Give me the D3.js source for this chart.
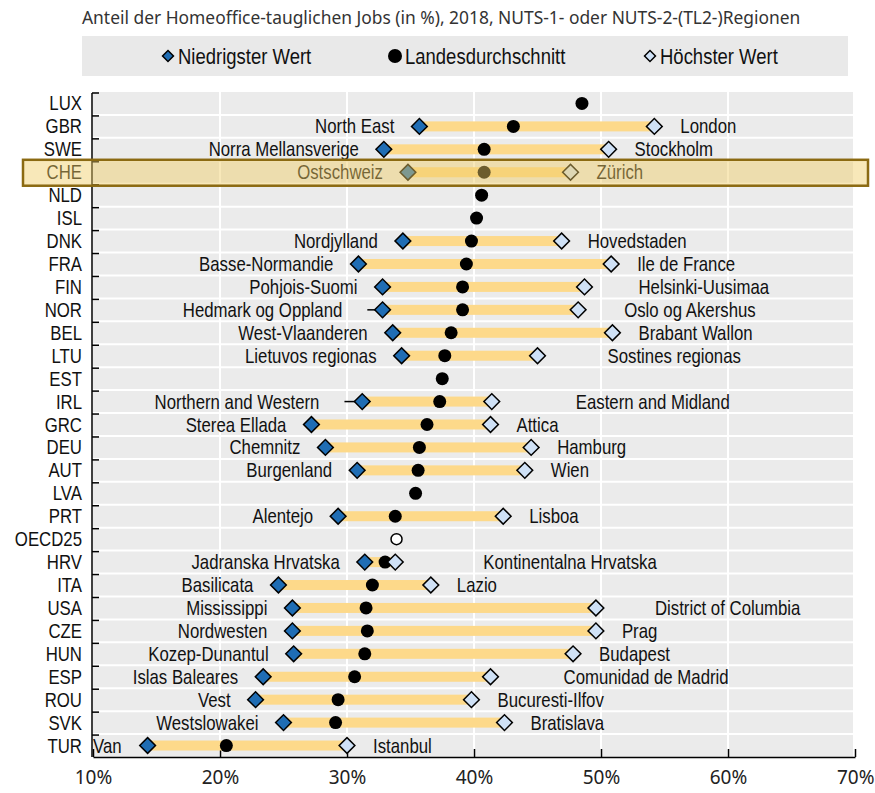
<!DOCTYPE html>
<html>
<head>
<meta charset="utf-8">
<script src="https://cdn.jsdelivr.net/npm/d3@7"></script>
<style>
  body { margin: 0; background: #fff; }
  .narrow { font-family: "Liberation Sans", Arial, sans-serif; }
  .noto { font-family: "Noto Sans", "Open Sans", sans-serif; }
</style>
</head>
<body>
<svg id="chart" width="875" height="793"></svg>
<script>
// Data
const countries = ["LUX","GBR","SWE","CHE","NLD","ISL","DNK","FRA","FIN","NOR","BEL","LTU","EST","IRL","GRC","DEU","AUT","LVA","PRT","OECD25","HRV","ITA","USA","CZE","HUN","ESP","ROU","SVK","TUR"];
const avgValues = [48.5,43.1,40.8,40.8,40.6,40.2,39.8,39.4,39.1,39.1,38.2,37.7,37.5,37.3,36.3,35.7,35.6,35.4,33.8,33.9,33.0,32.0,31.5,31.6,31.4,30.6,29.3,29.1,20.5];
const minValues = [null,35.7,32.9,34.8,null,null,34.4,30.9,32.8,32.8,33.6,34.3,null,31.2,27.2,28.3,30.8,null,29.3,null,31.4,24.6,25.7,25.7,25.8,23.4,22.8,25.0,14.3];
const maxValues = [null,54.2,50.6,47.6,null,null,46.9,50.8,48.7,48.2,50.9,45.0,null,41.4,41.3,44.5,44.0,null,42.3,null,33.8,36.6,49.6,49.6,47.8,41.3,39.8,42.4,30.0];
const minRegions = ["","North East","Norra Mellansverige","Ostschweiz","","","Nordjylland","Basse-Normandie","Pohjois-Suomi","Hedmark og Oppland","West-Vlaanderen","Lietuvos regionas","","Northern and Western","Sterea Ellada","Chemnitz","Burgenland","","Alentejo","","Jadranska Hrvatska","Basilicata","Mississippi","Nordwesten","Kozep-Dunantul","Islas Baleares","Vest","Westslowakei","Van"];
const maxRegions = ["","London","Stockholm","Zürich","","","Hovedstaden","Ile de France","Helsinki-Uusimaa","Oslo og Akershus","Brabant Wallon","Sostines regionas","","Eastern and Midland","Attica","Hamburg","Wien","","Lisboa","","Kontinentalna Hrvatska","Lazio","District of Columbia","Prag","Budapest","Comunidad de Madrid","Bucuresti-Ilfov","Bratislava","Istanbul"];
const leaderFrom = {NOR: 31.6, IRL: 29.8};
const xTicks = [10,20,30,40,50,60,70];
const highlight = "CHE";
const title = "Anteil der Homeoffice-tauglichen Jobs (in %), 2018, NUTS-1- oder NUTS-2-(TL2-)Regionen";
const legendItems = ["Niedrigster Wert","Landesdurchschnitt","Höchster Wert"];

// extra spacing for some right-hand labels, as in the original
const maxLabelShift = {"Helsinki-Uusimaa":28,"Oslo og Akershus":20,"Sostines regionas":44,"Eastern and Midland":58,"Kontinentalna Hrvatska":62,"District of Columbia":33,"Comunidad de Madrid":47};

const rows = countries.map((c, i) => ({
  country: c, avg: avgValues[i], min: minValues[i], max: maxValues[i],
  minName: minRegions[i], maxName: maxRegions[i]
}));

const svg = d3.select("#chart");
const x = d3.scaleLinear().domain([10, 70]).range([93, 855]);
const y = d3.scaleBand().domain(countries).range([92, 757]);
const cy = c => y(c) + y.bandwidth() / 2;

const minColor = "#1f6db4", maxColor = "#cfe1f6", barColor = "#fdd98a";
const diamond = d3.symbol().type(d3.symbolSquare).size(124);

// condensed look: squeeze the text horizontally around its anchor
function narrow(sel, fx, fy, size = 20, sx = 0.84) {
  sel.attr("class", "narrow").attr("font-size", size).attr("fill", "#111")
    .attr("transform", (d, i) => `translate(${fx(d, i)},${fy(d, i)}) scale(${sx},1)`);
}

// title
svg.append("text").attr("class", "noto").attr("x", 82).attr("y", 24)
  .attr("font-size", 17.4).attr("fill", "#333").text(title);

// legend
svg.append("rect").attr("x", 82).attr("y", 36).attr("width", 766).attr("height", 40).attr("fill", "#e9e9e9");
const legendX = [168, 395, 650];
legendItems.forEach((t, i) => {
  const g = svg.append("g").attr("transform", `translate(${legendX[i]},56)`);
  if (i === 1) {
    g.append("circle").attr("r", 7).attr("fill", "#000");
  } else {
    g.append("path").attr("d", d3.symbol().type(d3.symbolSquare).size(60)())
      .attr("transform", "rotate(45)")
      .attr("fill", i === 0 ? minColor : maxColor).attr("stroke", "#000").attr("stroke-width", 1.5);
  }
  g.append("text").call(narrow, () => 10, () => 7.5, 21.5, 0.86).text(t);
});

// plot background and grid
svg.append("rect").attr("x", 93).attr("y", 92).attr("width", 760).attr("height", 665).attr("fill", "#ebebeb");
svg.append("g").selectAll("line").data(countries.slice(1)).join("line")
  .attr("x1", 93).attr("x2", 853).attr("y1", d => y(d)).attr("y2", d => y(d))
  .attr("stroke", "#fff").attr("stroke-width", 2);
svg.append("g").selectAll("line").data(xTicks.slice(1, -1)).join("line")
  .attr("x1", d => x(d)).attr("x2", d => x(d)).attr("y1", 92).attr("y2", 757)
  .attr("stroke", "#fff").attr("stroke-width", 2);

// left axis with ticks at row boundaries
svg.append("line").attr("x1", 92).attr("x2", 92).attr("y1", 93).attr("y2", 757).attr("stroke", "#000").attr("stroke-width", 1.5);
svg.append("g").selectAll("line").data(countries).join("line")
  .attr("x1", 92).attr("x2", 99).attr("y1", d => y(d) + 1).attr("y2", d => y(d) + 1)
  .attr("stroke", "#000").attr("stroke-width", 1.5);
svg.append("g").selectAll("text").data(countries).join("text")
  .call(narrow, () => 82, d => cy(d) + 7)
  .attr("text-anchor", "end").text(d => d);

// bottom axis
const xAxis = svg.append("g").attr("transform", "translate(0,757)")
  .call(d3.axisBottom(x).tickValues(xTicks).tickFormat(d => d + "%").tickSizeInner(-8).tickSizeOuter(0).tickPadding(14));
xAxis.select(".domain").attr("stroke", "#000").attr("stroke-width", 1.5);
xAxis.selectAll(".tick line").attr("stroke", "#000").attr("stroke-width", 1.5);
xAxis.selectAll(".tick text").attr("class", "noto").attr("font-size", 19).attr("fill", "#222")
  .attr("text-anchor", (d, i) => i === xTicks.length - 1 ? "end" : "middle")
  .attr("dx", (d, i) => i === xTicks.length - 1 ? 19 : 0);

// range bars
const ranged = rows.filter(d => d.min != null);
svg.append("g").selectAll("rect").data(ranged).join("rect")
  .attr("x", d => x(d.min)).attr("width", d => x(d.max) - x(d.min))
  .attr("y", d => cy(d.country) - 5).attr("height", 10).attr("fill", barColor);

// leader lines
svg.append("g").selectAll("line").data(Object.entries(leaderFrom)).join("line")
  .attr("x1", d => x(d[1])).attr("x2", d => x(minValues[countries.indexOf(d[0])]))
  .attr("y1", d => cy(d[0])).attr("y2", d => cy(d[0]))
  .attr("stroke", "#000").attr("stroke-width", 1.5);

// averages
svg.append("g").selectAll("circle").data(rows).join("circle")
  .attr("cx", d => x(d.avg)).attr("cy", d => cy(d.country))
  .attr("r", d => d.country === "OECD25" ? 5.5 : 6.5)
  .attr("fill", d => d.country === "OECD25" ? "#fff" : "#000")
  .attr("stroke", "#000").attr("stroke-width", d => d.country === "OECD25" ? 1.5 : 0);

// min / max diamonds
svg.append("g").selectAll("path").data(ranged).join("path")
  .attr("d", diamond()).attr("transform", d => `translate(${x(d.min)},${cy(d.country)}) rotate(45)`)
  .attr("fill", minColor).attr("stroke", "#000").attr("stroke-width", 1.5);
svg.append("g").selectAll("path").data(ranged).join("path")
  .attr("d", diamond()).attr("transform", d => `translate(${x(d.max)},${cy(d.country)}) rotate(45)`)
  .attr("fill", maxColor).attr("stroke", "#000").attr("stroke-width", 1.5);

// region labels
svg.append("g").selectAll("text").data(ranged).join("text")
  .call(narrow,
    d => d.country === "TUR" ? 93 : x(leaderFrom[d.country] ?? d.min) - 25,
    d => cy(d.country) + 7)
  .attr("text-anchor", d => d.country === "TUR" ? "start" : "end")
  .text(d => d.minName);
svg.append("g").selectAll("text").data(ranged).join("text")
  .call(narrow, d => x(d.max) + 26 + (maxLabelShift[d.maxName] || 0), d => cy(d.country) + 7)
  .text(d => d.maxName);

// highlight box for Switzerland
svg.append("rect").attr("x", 23).attr("y", y(highlight) - 1).attr("width", 845).attr("height", y.bandwidth() + 3)
  .attr("fill", "rgb(240,205,100)").attr("fill-opacity", 0.45)
  .attr("stroke", "#8b6a12").attr("stroke-width", 2.5);
</script>
</body>
</html>
